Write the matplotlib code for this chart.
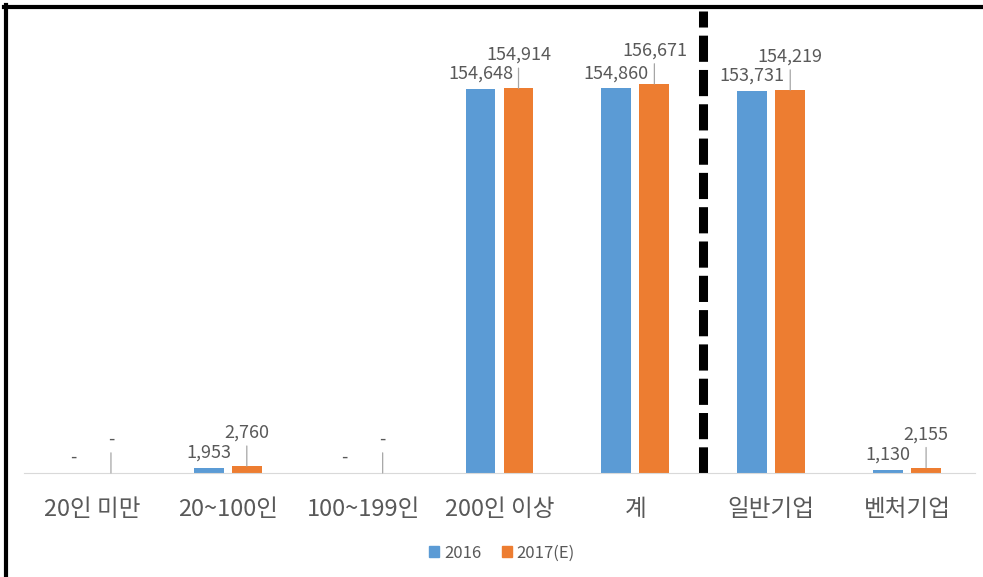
import matplotlib
matplotlib.use("Agg")
import matplotlib.pyplot as plt
import numpy as np
from matplotlib.lines import Line2D
from matplotlib.patches import Patch

plt.rcParams['font.family'] = ['Noto Sans CJK KR', 'DejaVu Sans']

categories = ['20인 미만', '20~100인', '100~199인', '200인 이상', '계', '일반기업', '벤처기업']
series_names = ['2016', '2017(E)']
values_2016 = [0, 1953, 0, 154648, 154860, 153731, 1130]
values_2017 = [0, 2760, 0, 154914, 156671, 154219, 2155]

blue = '#5B9BD5'
orange = '#ED7D31'
txt = '#595959'

fig = plt.figure(figsize=(9.83, 5.77), dpi=100)
ax = fig.add_axes([24/983, (577-473)/577, (975-24)/983, (473-26)/577])

x = np.arange(len(categories))
w = 0.22
off = 0.14
ax.bar(x - off, values_2016, w, color=blue, label=series_names[0])
ax.bar(x + off, values_2017, w, color=orange, label=series_names[1])

ax.set_xlim(-0.5, len(categories) - 0.5)
ax.set_ylim(0, 180000)

def fmt(v):
    return '-' if v == 0 else f'{v:,}'

for xi, v in zip(x - off, values_2016):
    ax.annotate(fmt(v), (xi, v), xytext=(0, 11), textcoords='offset points',
                ha='center', va='center', fontsize=13, color=txt)
for xi, v in zip(x + off, values_2017):
    ax.annotate(fmt(v), (xi, v), xytext=(0, 24), textcoords='offset points',
                ha='center', va='center', fontsize=13, color=txt,
                arrowprops=dict(arrowstyle='-', color='#A6A6A6', lw=0.9,
                                shrinkA=1, shrinkB=0))

for s in ['top', 'right', 'left']:
    ax.spines[s].set_visible(False)
ax.spines['bottom'].set_color('#D9D9D9')
ax.set_yticks([])
ax.set_xticks(x)
ax.set_xticklabels(categories, fontsize=17, color=txt)
ax.tick_params(axis='x', length=0, pad=18)

# dashed separator line
sep, = ax.plot([4.5, 4.5], [0, 186000], color='black', lw=6.5, clip_on=False)
sep.set_dashes([2.9, 0.9])

handles = [Patch(color=blue), Patch(color=orange)]
leg = fig.legend(handles, series_names, loc='center', bbox_to_anchor=(502/983, 1 - 553/577),
                 ncol=2, frameon=False, fontsize=12, handlelength=0.6, handleheight=0.6,
                 handletextpad=0.3, columnspacing=1.2)
for t in leg.get_texts():
    t.set_color(txt)

# border (top and left)
fig.add_artist(Line2D([4/983, 1], [1 - 7/577, 1 - 7/577], color='black', lw=3,
                      transform=fig.transFigure))
fig.add_artist(Line2D([6/983, 6/983], [0, 1 - 5/577], color='black', lw=3,
                      transform=fig.transFigure))

fig.savefig('out.png', dpi=100)
